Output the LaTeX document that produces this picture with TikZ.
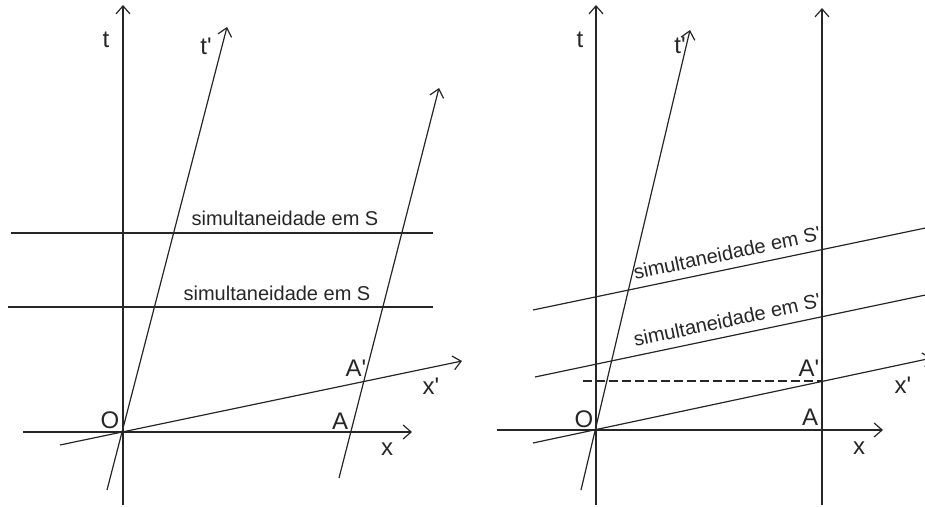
\documentclass[tikz,border=0pt]{standalone}
\usepackage{fontspec}
\setmainfont{Liberation Sans}[Ligatures=TeXOff]
\usetikzlibrary{arrows.meta}

\begin{document}
\begin{tikzpicture}[x=0.5pt,y=-0.5pt,line width=0.6pt,color=black!85,
  axis/.style={-{Straight Barb[length=4pt,width=7pt]}},
  lbl/.style={font=\fontsize{12}{14}\selectfont,inner sep=0pt},
  simul/.style={font=\fontsize{10}{12}\selectfont,inner sep=0pt}]
  \useasboundingbox (0,0) rectangle (925,507);

  % left: simultaneity in S
  \coordinate (tb1) at (123,505);  \coordinate (tt1) at (123,5);
  \coordinate (xb1) at (23,432);   \coordinate (xt1) at (412,432);
  \coordinate (pb1) at (107,490);  \coordinate (pt1) at (227,27);
  \coordinate (ab1) at (339,478);  \coordinate (at1) at (439,88);
  \coordinate (qb1) at (60,445);   \coordinate (qt1) at (462,361);
  \coordinate (s1a) at (11,233);   \coordinate (s1b) at (433,233);
  \coordinate (s2a) at (8,307);    \coordinate (s2b) at (433,307);

  \draw[axis] (tb1) -- (tt1);
  \draw[axis] (xb1) -- (xt1);
  \draw[axis] (pb1) -- (pt1);
  \draw[axis] (ab1) -- (at1);
  \draw[axis] (qb1) -- (qt1);
  \draw (s1a) -- (s1b);
  \draw (s2a) -- (s2b);

  \node[lbl] (t1) at (106,40) {t};
  \node[lbl] (tp1) at (206,46) {t'};
  \node[lbl] (o1) at (110,420) {O};
  \node[lbl] (a1) at (340,421) {A};
  \node[lbl] (ap1) at (356,368) {A'};
  \node[lbl] (xp1) at (431,386) {x'};
  \node[lbl] (x1) at (387,449) {x};
  \node[simul] (sim1) at (285,218) {simultaneidade em S};
  \node[simul] (sim2) at (277,293) {simultaneidade em S};

  % right: simultaneity in S'
  \coordinate (tb2) at (596,505);  \coordinate (tt2) at (596,5);
  \coordinate (xb2) at (497,430);  \coordinate (xt2) at (883,430);
  \coordinate (pb2) at (581,490);  \coordinate (pt2) at (690,30);
  \coordinate (vb2) at (822,505);  \coordinate (vt2) at (822,8);
  \coordinate (qb2) at (533,443);  \coordinate (qt2) at (932,358);
  \coordinate (r1a) at (535,377);  \coordinate (r1b) at (935,293);
  \coordinate (r2a) at (533,310);  \coordinate (r2b) at (935,226);
  \coordinate (da) at (583,381);   \coordinate (db) at (822,381);

  \draw[axis] (tb2) -- (tt2);
  \draw[axis] (xb2) -- (xt2);
  \draw[axis] (pb2) -- (pt2);
  \draw[axis] (vb2) -- (vt2);
  \draw[axis] (qb2) -- (qt2);
  \draw (r1a) -- (r1b);
  \draw (r2a) -- (r2b);
  \draw[dash pattern=on 4.5pt off 2pt] (da) -- (db);

  \node[lbl] (t2) at (580,40) {t};
  \node[lbl] (tp2) at (680,45) {t'};
  \node[lbl] (o2) at (584,419) {O};
  \node[lbl] (a2) at (810,417) {A};
  \node[lbl] (ap2) at (809,368) {A'};
  \node[lbl] (xp2) at (903,385) {x'};
  \node[lbl] (x2) at (859,448) {x};
  \node[simul,rotate=12] (sim3) at (727,253) {simultaneidade em S'};
  \node[simul,rotate=12] (sim4) at (727,320) {simultaneidade em S'};
\end{tikzpicture}
\end{document}
